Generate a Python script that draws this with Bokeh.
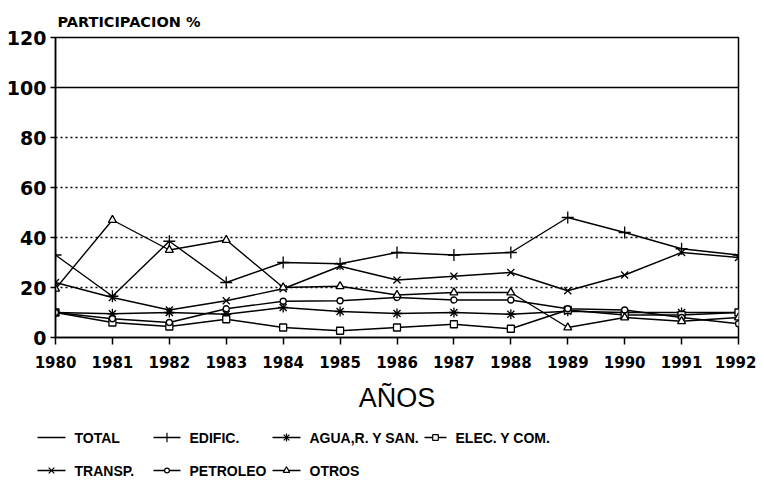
from bokeh.plotting import figure
from bokeh.models import FixedTicker
from bokeh.layouts import column
from bokeh.core.properties import value
from bokeh.embed import file_html
from bokeh.resources import INLINE

# ---- data ----
years = [1980, 1981, 1982, 1983, 1984, 1985, 1986, 1987, 1988, 1989, 1990, 1991, 1992]
total = [100, 100, 100, 100, 100, 100, 100, 100, 100, 100, 100, 100, 100]
edific = [33, 16.5, 38.5, 22, 30, 29.5, 34, 33, 34, 48, 42, 35.5, 33]
agua = [10, 9.5, 10, 9.3, 12, 10.4, 9.6, 10, 9.3, 10.5, 10, 10, 10]
elec = [10, 6, 4.4, 7.3, 4, 2.7, 4, 5.3, 3.5, 11, 9, 9, 10]
transp = [22, 16, 11, 14.7, 19.5, 28.5, 23, 24.5, 26, 18.7, 25, 34, 32]
petroleo = [10, 7.5, 6, 11.5, 14.5, 14.7, 16, 15, 15, 11.5, 11, 8, 5.5]
otros = [19.5, 47, 35, 39, 20, 20.5, 17, 18, 18, 4, 8, 6.5, 8]
y_ticks = [0, 20, 40, 60, 80, 100, 120]
grid_ticks = [20, 40, 60, 80]
series_names = ["TOTAL", "EDIFIC.", "AGUA,R. Y SAN.", "ELEC. Y COM.",
                "TRANSP.", "PETROLEO", "OTROS"]
markers = [None, "cross", "asterisk", "square", "x", "circle", "triangle"]
marker_sizes = [0, 12, 10, 7, 10, 6, 8]

TICK_FONT = "DejaVu Sans"
LEG_FONT = "Liberation Sans"
W = 756

p = figure(width=W, height=420, x_range=(1980, 1992), y_range=(0, 120),
           output_backend="svg", toolbar_location=None,
           min_border_left=55, min_border_right=18, min_border_top=37,
           min_border_bottom=83)
p.frame_align = False
p.background_fill_color = "white"
p.border_fill_color = "white"
p.outline_line_color = "black"
p.outline_line_width = 1.5
p.outline_line_alpha = 1.0

p.title.text = "PARTICIPACION %"
p.title.text_font = TICK_FONT
p.title.text_font_style = "bold"
p.title.text_font_size = "14.5px"
p.title.text_color = "black"
p.title.align = "left"
p.title.offset = 2
p.title.standoff = 15

# axes
p.xaxis.ticker = FixedTicker(ticks=years)
p.yaxis.ticker = FixedTicker(ticks=y_ticks)
for ax in (p.xaxis[0], p.yaxis[0]):
    ax.axis_line_color = "black"
    ax.axis_line_width = 1.5
    ax.major_tick_line_color = "black"
    ax.major_tick_line_width = 1.5
    ax.major_tick_in = 0
    ax.minor_tick_line_color = None
    ax.major_label_text_font = TICK_FONT
    ax.major_label_text_font_style = "bold"
    ax.major_label_text_color = "black"
p.xaxis.major_tick_out = 7
p.xaxis.major_label_text_font_size = "15px"
p.xaxis.major_label_standoff = 11
p.yaxis.major_tick_out = 5
p.yaxis.major_label_text_font_size = "19px"
p.yaxis.major_label_standoff = 4

p.xaxis.axis_label = "AÑOS"
p.xaxis.axis_label_text_font = LEG_FONT
p.xaxis.axis_label_text_font_style = "normal"
p.xaxis.axis_label_text_font_size = "27px"
p.xaxis.axis_label_text_color = "black"
p.xaxis.axis_label_standoff = 12

# grid: dotted lines at 20..80
p.xgrid.visible = False
p.ygrid.ticker = FixedTicker(ticks=grid_ticks)
p.ygrid.grid_line_color = "black"
p.ygrid.grid_line_dash = "2 3"
p.ygrid.grid_line_width = 1.5

LW = 1.4
p.line(years, total, line_color="black", line_width=1.6)
for vals, mk, sz in zip([edific, agua, elec, transp, petroleo, otros],
                        markers[1:], marker_sizes[1:]):
    p.line(years, vals, line_color="black", line_width=LW)
    p.scatter(years, vals, marker=mk, size=sz, line_color="black",
              fill_color="white", line_width=1.3)

# ---- legend strip under the chart (coordinates = pixels) ----
LH = 63
leg = figure(width=W, height=LH, x_range=(0, W), y_range=(0, LH),
             output_backend="svg", toolbar_location=None,
             x_axis_type=None, y_axis_type=None,
             min_border_left=0, min_border_right=0, min_border_top=0,
             min_border_bottom=0)
leg.frame_align = False
leg.outline_line_color = None
leg.background_fill_color = "white"
leg.border_fill_color = "white"

row_y = [46, 13]
col_x = [37, 153, 272, 424]
col_w = [28, 27, 28, 22]
slots = [(0, 0), (1, 0), (2, 0), (3, 0), (0, 1), (1, 1), (2, 1)]
for name, mk, sz, (c, r) in zip(series_names, markers, marker_sizes, slots):
    x0 = col_x[c]
    gw = col_w[c]
    y = row_y[r]
    leg.segment(x0=[x0], y0=[y], x1=[x0 + gw], y1=[y], line_color="black",
                line_width=1.4)
    if mk is not None:
        leg.scatter([x0 + gw / 2], [y], marker=mk, size=sz * 0.8,
                    line_color="black", fill_color="white", line_width=1.2)
    leg.text([x0 + gw + 9], [y], text=[name], text_baseline="middle",
             text_align="left", text_font=value(LEG_FONT),
             text_font_style="bold", text_font_size="14px",
             text_color="black")

open("out.html", "w").write(file_html(column(p, leg, spacing=0), INLINE))
